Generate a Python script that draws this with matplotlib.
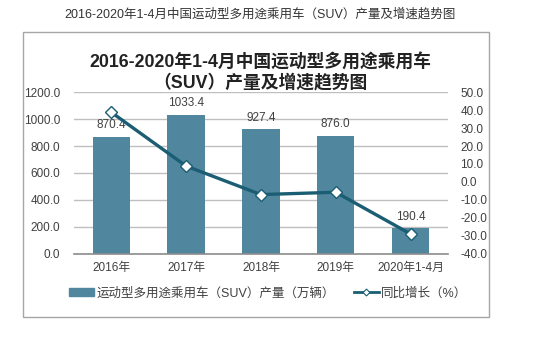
# SUV production and growth, 2016-2020 Jan-Apr

import matplotlib
matplotlib.use('Agg')
from matplotlib import pyplot as plt
from matplotlib.patches import Rectangle
from matplotlib.lines import Line2D

plt.rcParams['font.family'] = ['Liberation Sans', 'Noto Sans CJK SC', 'DejaVu Sans']

years = ['2016年', '2017年', '2018年', '2019年', '2020年1-4月']
output = [870.4, 1033.4, 927.4, 876.0, 190.4]
growth = [38.8, 8.8, -7.1, -5.8, -29.1]

bar_color = '#50879f'
line_color = '#1b5e73'
text_color = '#404040'

fig = plt.figure(figsize=(5.53, 3.45), dpi=100)

# outer frame of the chart
fig.patches.append(Rectangle((0.041, 0.082), 0.843, 0.824, transform=fig.transFigure,
                             fill=False, edgecolor='#a6a6a6', lw=1))

fig.text(0.47, 0.958, '2016-2020年1-4月中国运动型多用途乘用车（SUV）产量及增速趋势图',
         ha='center', va='center', fontsize=9, color='#333333')
fig.text(0.47, 0.79, '2016-2020年1-4月中国运动型多用途乘用车\n（SUV）产量及增速趋势图',
         ha='center', va='center', fontsize=12.8, fontweight='bold', color='#222222',
         linespacing=1.15)

ax = fig.add_axes([0.1338, 0.2652, 0.6762, 0.4673])
x = range(len(years))
ax.bar(x, output, width=0.5, color=bar_color, zorder=2)
for xi, v in zip(x, output):
    ax.text(xi, v + 40, '%.1f' % v, ha='center', va='bottom', fontsize=8.5, color=text_color)

ax.set_xlim(-0.5, 4.5)
ax.set_ylim(0, 1200)
ax.set_yticks(range(0, 1201, 200))
ax.set_yticklabels(['%.1f' % t for t in range(0, 1201, 200)])
ax.set_xticks(list(x))
ax.set_xticklabels(years)
ax.grid(axis='y', color='#bfbfbf', lw=1, zorder=0)
for s in ['top', 'left', 'right']:
    ax.spines[s].set_visible(False)
ax.spines['bottom'].set_color('#8c8c8c')
ax.spines['bottom'].set_linewidth(1.2)
ax.tick_params(axis='both', length=0, labelsize=8.5, labelcolor=text_color)
ax.tick_params(axis='y', pad=10)
ax.tick_params(axis='x', pad=6)

ax2 = ax.twinx()
ax2.plot(list(x), growth, color=line_color, lw=2.4, marker='D', markersize=6,
         markerfacecolor='white', markeredgecolor=line_color, markeredgewidth=1,
         zorder=3)
ax2.set_ylim(-40, 50)
ax2.set_yticks(range(-40, 51, 10))
ax2.set_yticklabels(['%.1f' % t for t in range(-40, 51, 10)])
for s in ['top', 'left', 'right', 'bottom']:
    ax2.spines[s].set_visible(False)
ax2.tick_params(axis='y', length=0, labelsize=8.5, labelcolor=text_color, pad=9)

handles = [Rectangle((0, 0), 1, 1, color=bar_color),
           Line2D([], [], color=line_color, lw=2, marker='D', markersize=3.5,
                  markerfacecolor='white', markeredgecolor=line_color, markeredgewidth=0.8)]
labels = ['运动型多用途乘用车（SUV）产量（万辆）', '同比增长（%）']
fig.legend(handles, labels, loc='center', bbox_to_anchor=(0.485, 0.15), ncol=2,
           frameon=False, fontsize=9, labelcolor=text_color, handlelength=2.0,
           handleheight=0.5, handletextpad=0.2, columnspacing=1.5)

fig.savefig('out.png', dpi=100)
